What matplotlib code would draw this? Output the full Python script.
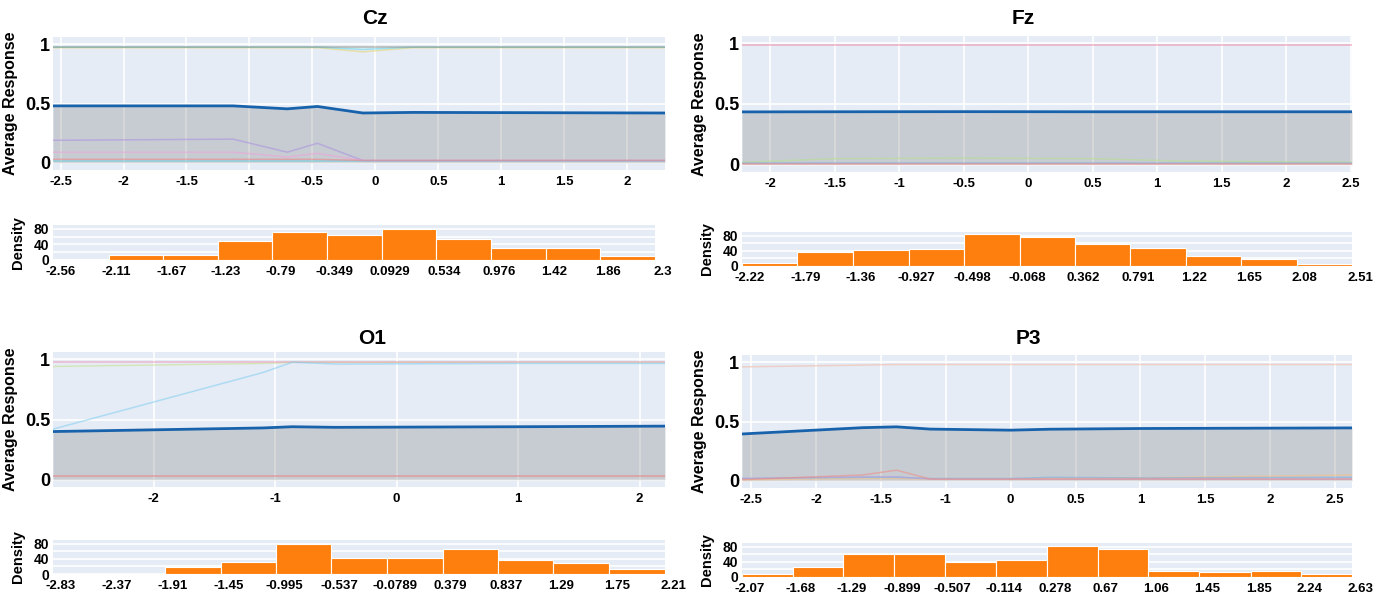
import matplotlib
matplotlib.use("Agg")
import matplotlib.pyplot as plt
import matplotlib.transforms as mtransforms

plt.rcParams['font.family'] = ['Liberation Sans', 'DejaVu Sans']
plt.rcParams['font.weight'] = 'bold'

# ---- Cz ----
cz_x = [-2.56, -1.13, -0.70, -0.46, -0.10, 0.30, 2.30]
cz_mean = [0.48, 0.48, 0.455, 0.475, 0.42, 0.425, 0.42]
cz_purple = [0.19, 0.20, 0.09, 0.165, 0.02, 0.02, 0.02]
cz_pink = [0.09, 0.09, 0.05, 0.08, 0.02, 0.02, 0.02]
cz_cyan_lo = [0.02, 0.02, 0.02, 0.02, 0.02, 0.02, 0.02]
cz_red_lo = [0.03, 0.03, 0.03, 0.03, 0.02, 0.02, 0.02]
cz_gray_hi = [0.975, 0.975, 0.975, 0.975, 0.975, 0.975, 0.975]
cz_cyan_hi = [0.975, 0.975, 0.975, 0.975, 0.955, 0.975, 0.975]
cz_olive_hi = [0.97, 0.97, 0.97, 0.97, 0.935, 0.97, 0.97]
cz_edges = [-2.56, -2.11, -1.67, -1.23, -0.79, -0.349, 0.0929, 0.534, 0.976, 1.42, 1.86, 2.3]
cz_density = [3, 14, 13, 48, 73, 64, 79, 54, 30, 30, 9]
cz_ticks = [-2.5, -2, -1.5, -1, -0.5, 0, 0.5, 1, 1.5, 2]

# ---- Fz ----
fz_x = [-2.22, -1.5, -0.5, 0.5, 1.2, 2.51]
fz_mean = [0.435, 0.436, 0.437, 0.436, 0.436, 0.436]
fz_pink_hi = [0.99, 0.99, 0.99, 0.99, 0.99, 0.99]
fz_green_lo = [0.02, 0.05, 0.055, 0.05, 0.03, 0.02]
fz_blue_lo = [0.015, 0.015, 0.015, 0.015, 0.015, 0.015]
fz_red_lo = [0.01, 0.01, 0.01, 0.01, 0.01, 0.01]
fz_edges = [-2.22, -1.79, -1.36, -0.927, -0.498, -0.068, 0.362, 0.791, 1.22, 1.65, 2.08, 2.51]
fz_density = [7, 36, 42, 44, 86, 76, 58, 47, 26, 18, 5]
fz_ticks = [-2, -1.5, -1, -0.5, 0, 0.5, 1, 1.5, 2, 2.5]

# ---- O1 ----
o1_x = [-2.83, -1.10, -0.86, -0.50, 1.0, 2.21]
o1_mean = [0.40, 0.43, 0.44, 0.435, 0.44, 0.445]
o1_sky = [0.42, 0.89, 0.975, 0.96, 0.965, 0.965]
o1_olive = [0.94, 0.965, 0.975, 0.975, 0.975, 0.975]
o1_pink_hi = [0.98, 0.98, 0.98, 0.98, 0.98, 0.98]
o1_red_lo = [0.03, 0.03, 0.03, 0.03, 0.03, 0.03]
o1_edges = [-2.83, -2.37, -1.91, -1.45, -0.995, -0.537, -0.0789, 0.379, 0.837, 1.29, 1.75, 2.21]
o1_density = [0.5, 1, 18, 31, 80, 43, 42, 65, 37, 30, 12]
o1_ticks = [-2, -1, 0, 1, 2]

# ---- P3 ----
p3_x = [-2.07, -1.14, -0.88, -0.62, 0.0, 0.30, 1.0, 2.63]
p3_mean = [0.395, 0.448, 0.455, 0.436, 0.427, 0.435, 0.441, 0.446]
p3_peach_hi = [0.96, 0.975, 0.98, 0.98, 0.98, 0.98, 0.98, 0.98]
p3_salmon = [0.01, 0.05, 0.09, 0.015, 0.015, 0.015, 0.015, 0.015]
p3_orange_lo = [0.01, 0.02, 0.02, 0.015, 0.015, 0.02, 0.025, 0.05]
p3_steel = [0.02, 0.03, 0.03, 0.02, 0.02, 0.03, 0.025, 0.03]
p3_lavender = [0.02, 0.035, 0.035, 0.015, 0.015, 0.015, 0.015, 0.015]
p3_edges = [-2.07, -1.68, -1.29, -0.899, -0.507, -0.114, 0.278, 0.67, 1.06, 1.45, 1.85, 2.24, 2.63]
p3_density = [9, 27, 61, 60, 40, 46, 82, 74, 17, 12, 15, 9]
p3_ticks = [-2, -1.5, -1, -0.5, 0, 0.5, 1, 1.5, 2, 2.5]
p3_ticklabels = ['-2.5', '-2', '-1.5', '-1', '0', '0.5', '1', '1.5', '2', '2.5']

BG = '#e5ecf6'
MEAN = '#1862ac'
BAR = '#ff7f0e'

W, H = 1388, 598
fig = plt.figure(figsize=(W / 100, H / 100), dpi=100)


def box(left, right, top, bottom):
    return [left / W, 1 - bottom / H, (right - left) / W, (bottom - top) / H]


def label_fmt(v):
    return '%g' % v


def response_panel(rect, x, mean, faint, ticks, ticklabels=None):
    ax = fig.add_axes(rect)
    ax.set_facecolor(BG)
    for s in ax.spines.values():
        s.set_visible(False)
    ax.set_axisbelow(True)
    ax.grid(True, color='white', linewidth=1.2)
    ax.fill_between(x, 0, mean, color='#808080', alpha=0.29, linewidth=0, zorder=2)
    for ys, c in faint:
        ax.plot(x, ys, color=c, linewidth=1.1, alpha=0.55, zorder=3)
    ax.plot(x, mean, color=MEAN, linewidth=2.0, zorder=4)
    ax.set_xlim(x[0], x[-1])
    ax.set_ylim(-0.06, 1.06)
    ax.set_yticks([0, 0.5, 1])
    ax.set_yticklabels(['0', '0.5', '1'], fontsize=13, fontweight='bold')
    ax.set_xticks(ticks)
    ax.set_xticklabels(ticklabels or [label_fmt(t) for t in ticks], fontsize=9.5, fontweight='bold')
    ax.tick_params(length=0, pad=4)
    ax.tick_params(axis='y', pad=2)
    ax.set_ylabel('Average Response', fontsize=11.5, fontweight='bold', labelpad=5)
    return ax


def density_panel(rect, edges, heights):
    ax = fig.add_axes(rect)
    ax.set_facecolor(BG)
    for s in ax.spines.values():
        s.set_visible(False)
    ax.set_axisbelow(True)
    ax.set_yticks([20, 60], minor=True)
    ax.grid(True, axis='y', which='both', color='white', linewidth=1.2)
    widths = [edges[i + 1] - edges[i] for i in range(len(heights))]
    ax.bar(edges[:-1], heights, width=widths, align='edge', color=BAR,
           edgecolor='white', linewidth=0.8, zorder=2)
    ax.set_xlim(edges[0], edges[-1])
    ax.set_ylim(0, 90)
    ax.set_yticks([0, 40, 80])
    ax.set_yticklabels(['0', '40', '80'], fontsize=10, fontweight='bold')
    ax.set_xticks(edges)
    ax.set_xticklabels([label_fmt(e) for e in edges], fontsize=9.5, fontweight='bold')
    ax.tick_params(length=0, pad=4)
    ax.tick_params(axis='y', pad=3)
    ax.tick_params(which='minor', length=0)
    # edge labels sit a little to the right of the bin edges
    shift = mtransforms.ScaledTranslation(8 / 100, 0, fig.dpi_scale_trans)
    for tick in ax.xaxis.get_major_ticks():
        tick.label1.set_transform(tick.label1.get_transform() + shift)
    ax.set_ylabel('Density', fontsize=10.5, fontweight='bold', labelpad=6)
    return ax


# Cz
response_panel(box(53, 665, 37, 170), cz_x, cz_mean,
               [(cz_purple, '#a98ee0'), (cz_pink, '#f2a0d8'), (cz_cyan_lo, '#5fd3e8'),
                (cz_red_lo, '#f08080'), (cz_olive_hi, '#e8d36a'), (cz_cyan_hi, '#5fd3e8'),
                (cz_gray_hi, '#8a8a7a')], cz_ticks)
density_panel(box(53, 655, 225, 260), cz_edges, cz_density)
fig.text(375 / W, 1 - 19 / H, 'Cz', fontsize=15, fontweight='bold', ha='center', va='center')

# Fz
response_panel(box(742, 1352, 36, 172), fz_x, fz_mean,
               [(fz_green_lo, '#b5df8a'), (fz_blue_lo, '#7aa6d8'), (fz_red_lo, '#f08080'),
                (fz_pink_hi, '#f07aa0')], fz_ticks)
density_panel(box(742, 1352, 232, 266), fz_edges, fz_density)
fig.text(1023 / W, 1 - 19 / H, 'Fz', fontsize=15, fontweight='bold', ha='center', va='center')

# O1
response_panel(box(53, 665, 352, 487), o1_x, o1_mean,
               [(o1_olive, '#c8e08a'), (o1_pink_hi, '#f08fb0'), (o1_red_lo, '#f07070'),
                (o1_sky, '#7fcdf0')], o1_ticks)
density_panel(box(53, 665, 540, 574), o1_edges, o1_density)
fig.text(372 / W, 1 - 338 / H, 'O1', fontsize=15, fontweight='bold', ha='center', va='center')

# P3
response_panel(box(742, 1352, 355, 488), p3_x, p3_mean,
               [(p3_peach_hi, '#f4b8a0'), (p3_orange_lo, '#f8c080'), (p3_steel, '#7aaee0'),
                (p3_lavender, '#b8a0e0'), (p3_salmon, '#f08a80')], p3_ticks, p3_ticklabels)
density_panel(box(742, 1352, 543, 577), p3_edges, p3_density)
fig.text(1028 / W, 1 - 338 / H, 'P3', fontsize=15, fontweight='bold', ha='center', va='center')

fig.savefig('out.png', dpi=100, facecolor='white')
